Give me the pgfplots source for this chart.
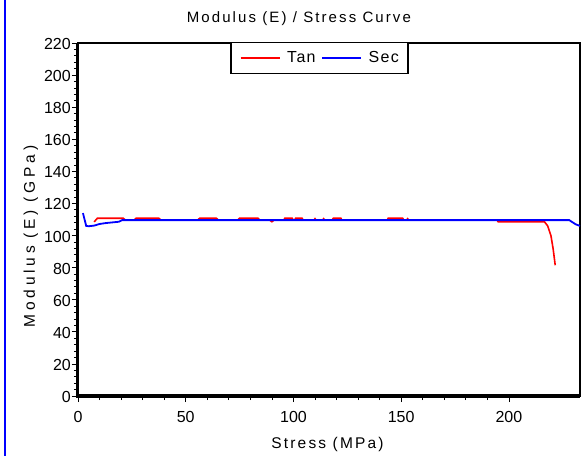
\documentclass[border=0pt]{standalone}
\usepackage{pgfplots}
\pgfplotsset{compat=1.18}
\usepackage{fontspec}
\setmainfont{Liberation Sans}
\newfontfamily\lblfont[LetterSpace=14]{Liberation Sans}
\newfontfamily\legfont[LetterSpace=8]{Liberation Sans}
\begin{document}
\begin{tikzpicture}
\begin{axis}[name=ax,
  scale only axis, width=502bp, height=353bp,
  xmin=0, xmax=233, ymin=0, ymax=220,
  xtick={0,50,100,150,200}, minor x tick num=4,
  ytick={0,20,...,220}, minor y tick num=4,
  tick align=outside, tick pos=left,
  major tick length=6bp, minor tick length=4bp,
  every tick/.style={black, line width=0.8bp},
  axis line style={line width=1.5bp},
  /pgf/number format/assume math mode=true,
  ticklabel style={font=\fontsize{16bp}{18bp}\selectfont, inner sep=1bp},
  xticklabel style={yshift=-8bp},
  yticklabel style={yshift=-1bp},
  title={Modulus (E) / Stress Curve},
  title style={font=\fontsize{15bp}{18bp}\lblfont, at={(0.44,1)}, anchor=base, yshift=15bp},
  xlabel={Stress (MPa)},
  xlabel style={font=\fontsize{15.5bp}{18bp}\lblfont, at={(0.497,0)}, anchor=base, yshift=-52bp},
  ylabel={Modulus (E) (GPa)},
  ylabel style={font=\fontsize{15.5bp}{18bp}\lblfont\addfontfeatures{LetterSpace=24}, at={(-0.0857,0.452)}, anchor=base},
  legend style={at={(0.481,1.003)}, anchor=north, legend columns=-1, line width=1.5bp,
    font=\fontsize{16bp}{18bp}\legfont, inner xsep=9bp, inner ysep=7bp,
    nodes={inner xsep=0bp, inner ysep=2bp},
    /tikz/every odd column/.style={column sep=7bp},
    /tikz/every even column/.style={column sep=6bp}},
  legend image code/.code={\draw[mark repeat=2,mark phase=2,#1] plot coordinates {(0bp,0bp) (39bp,0bp)};},
]
\addlegendimage{red, line width=1.1bp}
\addlegendentry{Tan}
\addlegendimage{blue, line width=1.1bp}
\addlegendentry{Sec\hspace{18bp}}
\addplot[red, line width=1.6bp, forget plot] coordinates {
(7.5,108.5) (9,110.8) (21,110.8) (22,109.6) (26,109.6) (27,110.8) (37.5,110.8) (38.5,109.6)
(55.5,109.6) (56.5,110.8) (64.2,110.8) (65.2,109.6) (74,109.6) (75,110.8) (83.5,110.8) (84.5,109.6)
(89,109.6) (90,108.6) (91,109.6) (95.5,109.6) (96,110.8) (99.4,110.8) (100,109.6) (100.5,109.6)
(101,110.8) (104,110.8) (104.5,109.6) (109.5,109.6) (110,110.5) (110.5,109.6) (113.5,109.6) (114,110.5) (114.5,109.6)
(118,109.6) (118.5,110.8) (122,110.8) (122.5,109.6) (143.5,109.6) (144,110.8) (150.7,110.8) (151.2,109.6)
(152.5,109.6) (153,110.5) (153.5,109.6) (194.5,109.6) (195,108.6) (216.5,108.6) (218,106) (219.5,100) (220.5,92) (221.5,81.5)
};
\addplot[blue, line width=1.8bp, forget plot] coordinates {
(2.3,114) (3.8,106) (5,105.8) (7.5,106.2) (10,107.2) (13,107.8) (16,108.2) (19,108.6) (20.5,109.6)
(228,109.6) (231,107) (233,106)
};
\end{axis}
\draw[line width=3.5bp] ([xshift=-0.5bp]ax.north west) -- ([xshift=-0.5bp]ax.south west);
\draw[line width=4bp] ([xshift=-2bp]ax.south west) -- ([yshift=0bp]ax.south east);
\pgfresetboundingbox
\useasboundingbox ([shift={(-78bp,-60bp)}]ax.south west) rectangle ([shift={(4bp,43bp)}]ax.north east);
\draw[blue, line width=1.6bp] ([shift={(-73bp,-60bp)}]ax.south west) -- ([shift={(-73bp,43bp)}]ax.north west);
\end{tikzpicture}
\end{document}
